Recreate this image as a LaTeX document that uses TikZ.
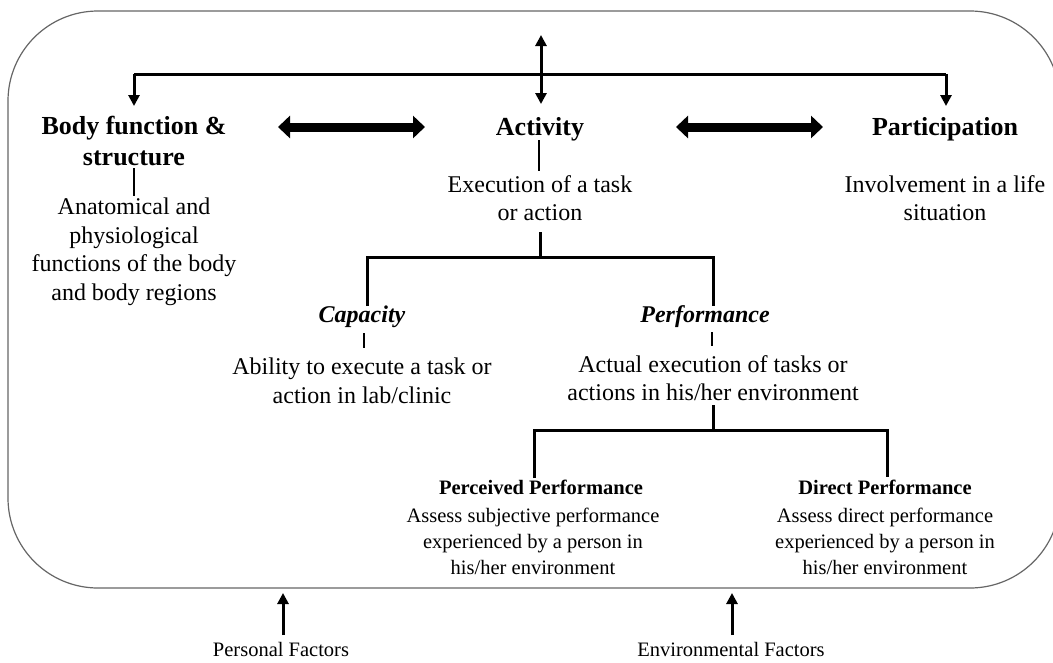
\documentclass[tikz,border=0pt]{standalone}
\usepackage{fontspec}
\setmainfont{Liberation Serif}
\usetikzlibrary{arrows.meta}
\begin{document}
\begin{tikzpicture}[x=1pt,y=-1pt,
  every node/.style={inner sep=0pt, align=center},
  hd/.style={font=\fontsize{26}{32}\selectfont\bfseries},
  sb/.style={font=\fontsize{24}{28.5}\selectfont\bfseries\itshape},
  txt/.style={font=\fontsize{24}{28.5}\selectfont},
  sm/.style={font=\fontsize{20.5}{26}\selectfont},
  smhd/.style={font=\fontsize{20.5}{26}\selectfont\bfseries},
  conn/.style={line width=3pt},
  tick/.style={line width=1.5pt},
  tipd/.style={-{Triangle[length=11pt,width=11pt]}},
  tipdd/.style={{Triangle[length=11pt,width=11pt]}-{Triangle[length=11pt,width=11pt]}},
  fat/.style={line width=9pt,{Triangle[length=12pt,width=22pt]}-{Triangle[length=12pt,width=22pt]}},
  frame/.style={draw=black!60, line width=1.2pt, rounded corners=90pt}
]
\useasboundingbox (0,0) rectangle (1053,662);
\path[frame] (8,11) rectangle (1060,588);

% headings
\node[hd] (bf) at (134,141) {Body function \&\\structure};
\node[hd] (act) at (540,129) {Activity};
\node[hd] (par) at (945,129) {Participation};

% descriptions
\node[txt] (bfd) at (134,252) {Anatomical and\\physiological\\functions of the body\\and body regions};
\node[txt] (actd) at (540,198) {Execution of a task\\or action};
\node[txt] (pard) at (945,198) {Involvement in a life\\situation};

% capacity / performance
\node[sb] (cap) at (362,317) {Capacity};
\node[sb] (perf) at (705,317) {Performance};
\node[txt] (capd) at (362,381) {Ability to execute a task or\\action in lab/clinic};
\node[txt] (perfd) at (713,378) {Actual execution of tasks or\\actions in his/her environment};

% perceived / direct
\node[smhd] (pp) at (541,487) {Perceived Performance};
\node[smhd] (dp) at (885,487) {Direct Performance};
\node[sm] (ppd) at (533,541) {Assess subjective performance\\experienced by a person in\\his/her environment};
\node[sm] (dpd) at (885,541) {Assess direct performance\\experienced by a person in\\his/her environment};

% factors
\node[sm] (pf) at (281,649) {Personal Factors};
\node[sm] (ef) at (731,649) {Environmental Factors};

% coordinates
\coordinate (busL) at (134,74);
\coordinate (busR) at (946,74);
\coordinate (bfTip) at (134,106);
\coordinate (parTip) at (946,106);
\coordinate (vTop) at (541,35);
\coordinate (vBot) at (541,104);
\coordinate (fa1L) at (278,127);
\coordinate (fa1R) at (425,127);
\coordinate (fa2L) at (676,127);
\coordinate (fa2R) at (823,127);

\coordinate (bfT1) at (134,168);
\coordinate (bfT2) at (134,196);
\coordinate (acT1) at (539,140);
\coordinate (acT2) at (539,171);
\coordinate (acD) at (540,232);
\coordinate (acH) at (540,257);
\coordinate (cpH) at (367,257);
\coordinate (cpE) at (367,306);
\coordinate (pfH) at (713,257);
\coordinate (pfE) at (713,306);
\coordinate (cpT1) at (364,333);
\coordinate (cpT2) at (364,348);
\coordinate (pfT1) at (712,332);
\coordinate (pfT2) at (712,346);
\coordinate (peD) at (713,405);
\coordinate (peH) at (713,430);
\coordinate (ppH) at (534,430);
\coordinate (ppE) at (534,478);
\coordinate (dpH) at (887,430);
\coordinate (dpE) at (887,477);
\coordinate (pfB) at (283,635);
\coordinate (pfA) at (283,593);
\coordinate (efB) at (732,635);
\coordinate (efA) at (732,593);

% top bus
\draw[conn,tipd] (busL) -- (bfTip);
\draw[conn,tipd] (busR) -- (parTip);
\draw[conn] (busL) -- (busR);
\draw[conn,tipdd] (vTop) -- (vBot);

% fat arrows
\draw[fat] (fa1L) -- (fa1R);
\draw[fat] (fa2L) -- (fa2R);

% ticks under headings
\draw[tick] (bfT1) -- (bfT2);
\draw[tick] (acT1) -- (acT2);
\draw[tick] (cpT1) -- (cpT2);
\draw[tick] (pfT1) -- (pfT2);

% activity tree
\draw[conn] (acD) -- (acH);
\draw[conn] (cpE) -- (cpH) -- (pfH) -- (pfE);

% performance tree
\draw[conn] (peD) -- (peH);
\draw[conn] (ppE) -- (ppH) -- (dpH) -- (dpE);

% factor arrows
\draw[conn,tipd] (pfB) -- (pfA);
\draw[conn,tipd] (efB) -- (efA);
\end{tikzpicture}
\end{document}
